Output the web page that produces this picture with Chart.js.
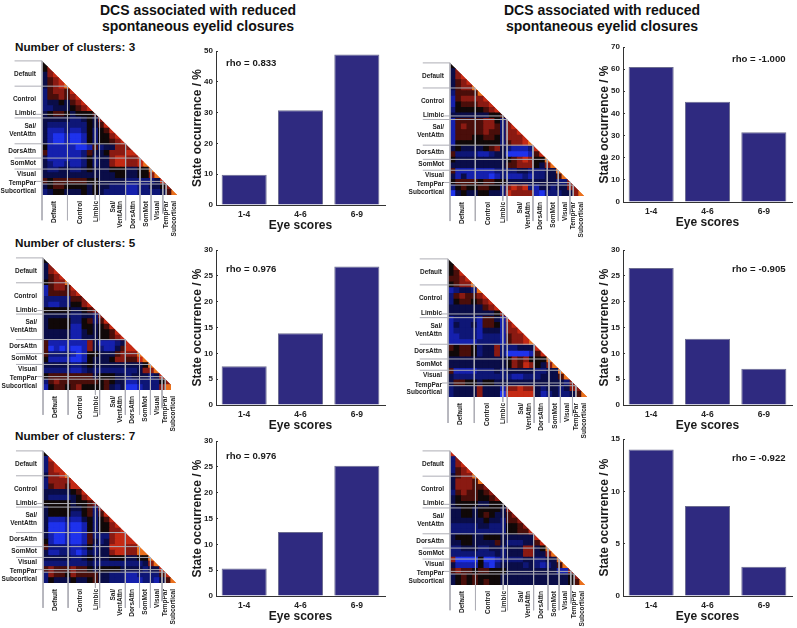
<!DOCTYPE html>
<html>
<head>
<meta charset="utf-8">
<title>DCS and eyelid closures</title>
<script src="https://cdn.jsdelivr.net/npm/chart.js@4"></script>
<style>
  html, body { margin: 0; padding: 0; background: #fff; }
  #page { position: relative; width: 797px; height: 628px; overflow: hidden; font-family: "Liberation Sans", Arial, sans-serif; font-weight: bold; color: #1a1a1a; }
  #page canvas { position: absolute; }
  .head { position: absolute; width: 300px; text-align: center; font-size: 14px; line-height: 16px; color: #111; }
  .clusters { position: absolute; left: 15px; font-size: 11.7px; line-height: 14px; color: #111; }
  .rho { position: absolute; font-size: 9.6px; line-height: 12px; color: #1a1a1a; white-space: nowrap; }
  .heat { filter: blur(0.3px); }
</style>
</head>
<body>
<div id="page">
  <div class="head" style="left:48px;top:2px">DCS associated with reduced<br>spontaneous eyelid closures</div>
  <div class="head" style="left:452px;top:2px">DCS associated with reduced<br>spontaneous eyelid closures</div>
  <div class="clusters" style="top:40px">Number of clusters: 3</div>
  <div class="clusters" style="top:236px">Number of clusters: 5</div>
  <div class="clusters" style="top:429px">Number of clusters: 7</div>
</div>
<script>
// bar values
const eyeScores = ['1-4', '4-6', '6-9'];
const occurrence3Left = [9.8, 30.8, 48.9];
const occurrence3Right = [61, 45.3, 31.5];
const occurrence5Left = [7.5, 13.9, 26.8];
const occurrence5Right = [26.5, 12.8, 7];
const occurrence7Left = [5.3, 12.4, 25.2];
const occurrence7Right = [14, 8.6, 2.8];
const rhoLabels = ['rho = 0.833', 'rho = -1.000', 'rho = 0.976', 'rho = -0.905', 'rho = 0.976', 'rho = -0.922'];
const axisMax = [50, 70, 30, 30, 30, 15];
const axisStep = [10, 10, 5, 5, 5, 5];

// networks of the connectivity triangles
const networkEdges = [0, 26, 54.3, 58.7, 85.3, 100, 111.3, 123.3, 126.7, 138];
const leftLabels = ['Default', 'Control', 'Limbic', ['Sal/', 'VentAttn'], 'DorsAttn', 'SomMot', 'Visual', 'TempPar', 'Subcortical'];
const leftLabelPos = [13.7, 39.7, 54.3, 71, 92.7, 105, 116.7, 126, 133.7];
const bottomLabelPos = [12.3, 39, 55, 72.3, 92.7, 106, 118, 126.7, 134.7];

// one string per row, one digit per cell: 0 bright blue ... 4 black ... 9 yellow
const matrix3Left = ['4','46','367','3567','35678','256657','2556567','23343567','223334567','3455434445',
  '33333223436','322222224357','3111211242457','31001001424467','310010014244567','4111110015233666','51111112533466677',
  '311111124233677667','3211211242336776678','32233223433344433448','333333333333344334468',
  '5455555544333332222237','34554444343322211223346','234433343432222112222358'];
const matrix3Right = ['4','36','367','3567','35668','255558','1566667','14555667','244444567','3333333445',
  '15555566426','156555665267','1555556552667','15554455426667','144444444256678','3433334563211127','52222112330000157',
  '433333333345676448','3333333333556664368','51111111222233222338','313111101211121223358',
  '4555545544333333333226','24544554426767213323366','034334433276666102223368'];
const matrix5Left = ['4','36','367','3567','45668','156657','1555567','22222556','211224467','4444433456',
  '33333223326','344442245257','3444411443457','33333113434457','333331133344567','5111111163111237','50101001632113577',
  '522221014433356668','4111100143334665578','33333223433333333348','222221123222222223668',
  '4555555553444332333237','25655555554543311222246','14554564444532300122268'];
const matrix5Right = ['4','46','457','5567','45668','123328','2565567','24554567','333333567','3333333346',
  '12222155317','132231554167','1222213331667','11222122215667','111112222156678','5455423362223337','44554233620000157',
  '333333333346564448','3333333333465764368','51111222323333322338','322222222221122233358',
  '3554434433333333333326','23333633316676632332366','233336333077777312322358'];
const matrix7Left = ['4','27','267','2677','36678','266667','2566577','33333457','322223467','4444434456',
  '34444334526','344442245257','3111211342457','30001001424467','300010014244667','3100100152226777','41001001532367777',
  '522221124233777668','3112210132336776688','33333223433344433448','222222223222222222368',
  '5655565543444433332337','26554655553322211222257','243334334533222111221358'];
const matrix7Right = ['7','26','267','2567','35668','366658','3666556','25655456','345554456','3444433444',
  '33443444436','334434543356','3333334332556','22222332224456','222222222244557','3444334443333337','33443333532223357',
  '223332233233366348','2222222232333663368','60000400122223322338','311114102333323212358',
  '5655455444333333333116','34545444433333333333346','345454544333333333333458'];
const panelMatrices = [matrix3Left, matrix3Right, matrix5Left, matrix5Right, matrix7Left, matrix7Right];
const panelBars = [occurrence3Left, occurrence3Right, occurrence5Left, occurrence5Right, occurrence7Left, occurrence7Right];

const levelColors = ['#1e32ec', '#1520ad', '#0e1676', '#0a0d48', '#100808', '#4a0e0a', '#8a1a12', '#c42a14', '#ea701c', '#ffd468'];

// where each panel sits on the page
const heatPlace = [[42, 57, 138], [450, 59, 137], [43, 254, 136], [448, 255, 142], [43, 447, 136], [450, 447, 138]];
const barPlace = [[216, 51, 205], [623, 47, 202], [216, 250, 405], [623, 250, 405], [216, 441, 596], [623, 439, 596]];
const rhoPlace = [[226, 57], [732, 53], [226, 263], [732, 263], [226, 450], [732, 452]];

function addCanvas(left, top, width, height) {
  const canvas = document.createElement('canvas');
  canvas.width = width;
  canvas.height = height;
  canvas.style.left = left + 'px';
  canvas.style.top = top + 'px';
  canvas.style.width = width + 'px';
  canvas.style.height = height + 'px';
  document.getElementById('page').appendChild(canvas);
  return canvas;
}

// keeps the cells inside the triangle under the diagonal, then softens them
const triangleClip = {
  id: 'triangleClip',
  beforeDatasetDraw(chart, args) {
    if (args.index !== chart.data.datasets.length - 1) return;
    const { x, y } = chart.scales;
    const ctx = chart.ctx;
    ctx.save();
    ctx.beginPath();
    ctx.moveTo(x.getPixelForValue(0), y.getPixelForValue(0));
    ctx.lineTo(x.getPixelForValue(138), y.getPixelForValue(138));
    ctx.lineTo(x.getPixelForValue(0), y.getPixelForValue(138));
    ctx.closePath();
    ctx.clip();
  },
  afterDatasetDraw(chart, args) {
    if (args.index !== chart.data.datasets.length - 1) return;
    chart.ctx.filter = 'blur(0.7px)';
    chart.ctx.drawImage(chart.canvas, 0, 0);
    chart.ctx.restore();
  }
};

function lineSet(points) {
  return {
    data: points,
    showLine: true,
    pointRadius: 0,
    borderColor: '#aeaeb6',
    borderWidth: 1,
    clip: false
  };
}

function drawMatrix(rows, place) {
  const [apexX, apexY, size] = place;
  const canvas = addCanvas(apexX - 42, apexY - 6, size + 50, size + 72);
  canvas.className = 'heat';

  const n = rows.length;
  const cell = 138 / n;
  const cells = [];
  rows.forEach((row, r) => {
    row.split('').forEach((level, c) => {
      cells.push({ x: (c + 0.5) * cell, y: (r + 0.5) * cell, v: Number(level) });
    });
  });

  const datasets = [];
  networkEdges.forEach((edge, i) => {
    if (i === 2) {
      // limbic only gets short ticks
      datasets.push(lineSet([{ x: -6, y: 55 }, { x: edge, y: 55 }]));
      datasets.push(lineSet([{ x: edge, y: edge }, { x: edge, y: 143 }]));
    } else if (i === 7) {
      datasets.push(lineSet([{ x: -6, y: 124 }, { x: edge, y: 124 }]));
      datasets.push(lineSet([{ x: edge, y: edge }, { x: edge, y: 157 }]));
    } else if (i === 8) {
      datasets.push(lineSet([{ x: 0, y: edge }, { x: edge, y: edge }]));
      datasets.push(lineSet([{ x: edge, y: edge }, { x: edge, y: 138 }]));
    } else if (i < 9) {
      datasets.push(lineSet([{ x: -28, y: edge }, { x: edge, y: edge }]));
      datasets.push(lineSet([{ x: edge, y: edge }, { x: edge, y: 164 }]));
    }
  });
  datasets.push({
    data: cells,
    pointStyle: 'rect',
    pointBorderWidth: 0,
    pointRadius: ctx => (ctx.chart.chartArea ? ctx.chart.chartArea.width : size) / n / 2 * Math.SQRT2 + 0.4,
    pointHoverRadius: 0,
    backgroundColor: ctx => levelColors[ctx.raw.v]
  });

  const tickFont = { family: '"Liberation Sans", Arial, sans-serif', size: 6.5, weight: 'bold' };
  new Chart(canvas, {
    type: 'scatter',
    data: { datasets },
    plugins: [triangleClip],
    options: {
      responsive: false,
      animation: false,
      devicePixelRatio: 1,
      layout: { padding: { top: 6, right: 8, left: 0, bottom: 0 } },
      plugins: { legend: { display: false }, tooltip: { enabled: false } },
      scales: {
        x: {
          type: 'linear',
          min: 0,
          max: 138,
          grid: { display: false, drawTicks: false },
          border: { display: false },
          afterFit: s => { s.height = 66; },
          afterBuildTicks: s => { s.ticks = bottomLabelPos.map(value => ({ value })); },
          ticks: {
            autoSkip: false,
            minRotation: 90,
            maxRotation: 90,
            padding: 6,
            color: '#222',
            font: tickFont,
            callback: (value, i) => leftLabels[i]
          }
        },
        y: {
          type: 'linear',
          reverse: true,
          min: 0,
          max: 138,
          grid: { display: false, drawTicks: false },
          border: { display: false },
          afterFit: s => { s.width = 42; },
          afterBuildTicks: s => { s.ticks = leftLabelPos.map(value => ({ value })); },
          ticks: {
            autoSkip: false,
            padding: 6,
            color: '#222',
            font: tickFont,
            callback: (value, i) => leftLabels[i]
          }
        }
      }
    }
  });
}

function drawBars(values, place, max, step) {
  const [axisX, top, bottom] = place;
  const canvas = addCanvas(axisX - 36, top - 10, 36 + 169 + 8, bottom - top + 10 + 28);
  const font = size => ({ family: '"Liberation Sans", Arial, sans-serif', size, weight: 'bold' });

  new Chart(canvas, {
    type: 'bar',
    data: {
      labels: eyeScores,
      datasets: [{
        data: values,
        backgroundColor: '#2f2a80',
        borderColor: '#6c6c90',
        borderWidth: { top: 1, left: 1, right: 1, bottom: 0 },
        barPercentage: 0.8,
        categoryPercentage: 1
      }]
    },
    options: {
      responsive: false,
      animation: false,
      devicePixelRatio: 1,
      layout: { padding: { top: 10, right: 8, left: 0, bottom: 0 } },
      plugins: { legend: { display: false }, tooltip: { enabled: false } },
      scales: {
        x: {
          grid: { display: false, drawTicks: false },
          border: { color: '#333', width: 1 },
          afterFit: s => { s.height = 28; },
          ticks: { padding: 5, color: '#222', font: font(8.5) },
          title: { display: true, text: 'Eye scores', color: '#1a1a1a', font: font(12), padding: { top: 0, bottom: 0 } }
        },
        y: {
          min: 0,
          max: max,
          grid: { drawOnChartArea: false, tickLength: -2, color: '#333' },
          border: { color: '#333', width: 1 },
          afterFit: s => { s.width = 36; },
          ticks: { stepSize: step, padding: 5, color: '#222', font: font(8) },
          title: { display: true, text: 'State occurrence / %', color: '#1a1a1a', font: font(12), padding: { top: 10, bottom: 0 } }
        }
      }
    }
  });
}

panelMatrices.forEach((rows, i) => drawMatrix(rows, heatPlace[i]));
panelBars.forEach((values, i) => {
  drawBars(values, barPlace[i], axisMax[i], axisStep[i]);
  const label = document.createElement('div');
  label.className = 'rho';
  label.textContent = rhoLabels[i];
  label.style.left = rhoPlace[i][0] + 'px';
  label.style.top = rhoPlace[i][1] + 'px';
  document.getElementById('page').appendChild(label);
});
</script>
</body>
</html>
